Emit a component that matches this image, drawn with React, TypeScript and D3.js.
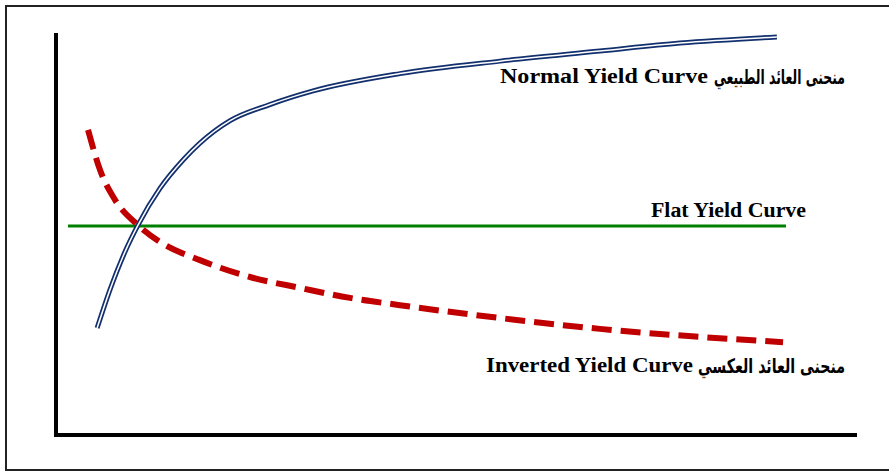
import React, { useEffect, useRef } from 'react';
import * as d3 from 'd3';

// maturity (years) and yield (%)
const normalYears = [1.54, 2.02, 2.58, 3.07, 3.9, 4.76, 5.39, 6.52, 8.01, 9.63, 12.88, 16.63, 20.37, 23.37, 27.0];
const normalYields = [2.66, 3.61, 4.55, 5.22, 6.14, 6.84, 7.26, 7.82, 8.22, 8.56, 8.99, 9.3, 9.55, 9.75, 9.9];

const invertedYears = [1.2, 1.65, 2.21, 3.07, 3.9, 5.39, 7.27, 9.14, 11.01, 12.88, 16.63, 20.37, 24.12, 27.23];
const invertedYields = [7.59, 6.59, 5.85, 5.22, 4.8, 4.35, 3.93, 3.66, 3.41, 3.23, 2.91, 2.64, 2.44, 2.31];

const flatYears = [0.45, 27.34];
const flatYields = [5.2, 5.2];

const labelsEn = ['Normal Yield Curve', 'Flat Yield Curve', 'Inverted Yield Curve'];
const labelsAr = ['منحنى العائد الطبيعي', '', 'منحنى العائد العكسي'];

const W = 889;
const H = 471;

const App: React.FC = () => {
  const svgRef = useRef<SVGSVGElement>(null);

  useEffect(() => {
    if (!svgRef.current) return;
    const svg = d3.select(svgRef.current);
    svg.selectAll('*').remove();

    const x = d3.scaleLinear().domain([0, 30]).range([56, 857]);
    const y = d3.scaleLinear().domain([0, 10]).range([435, 33]);

    // outer frame
    svg
      .append('rect')
      .attr('x', 6)
      .attr('y', 6)
      .attr('width', W + 10)
      .attr('height', 464)
      .attr('fill', 'white')
      .attr('stroke', '#222')
      .attr('stroke-width', 2);

    // axes
    svg
      .append('line')
      .attr('x1', x(0))
      .attr('x2', x(0))
      .attr('y1', y(10))
      .attr('y2', y(0) + 2)
      .attr('stroke', '#000')
      .attr('stroke-width', 4);
    svg
      .append('line')
      .attr('x1', x(0) - 2)
      .attr('x2', x(30))
      .attr('y1', y(0))
      .attr('y2', y(0))
      .attr('stroke', '#000')
      .attr('stroke-width', 4);

    const zip = (xs: number[], ys: number[]) => xs.map((v, i) => [v, ys[i]] as [number, number]);
    const line = d3
      .line<[number, number]>()
      .x(d => x(d[0]))
      .y(d => y(d[1]))
      .curve(d3.curveMonotoneX);

    // flat
    svg
      .append('path')
      .datum(zip(flatYears, flatYields))
      .attr('fill', 'none')
      .attr('stroke', '#008000')
      .attr('stroke-width', 3)
      .attr('d', line);

    // normal: double line
    const normal = zip(normalYears, normalYields);
    svg
      .append('path')
      .datum(normal)
      .attr('fill', 'none')
      .attr('stroke', '#13306e')
      .attr('stroke-width', 5)
      .attr('d', line);
    svg
      .append('path')
      .datum(normal)
      .attr('fill', 'none')
      .attr('stroke', '#fff')
      .attr('stroke-width', 1.5)
      .attr('d', line);

    // inverted: dashed
    svg
      .append('path')
      .datum(zip(invertedYears, invertedYields))
      .attr('fill', 'none')
      .attr('stroke', '#c00000')
      .attr('stroke-width', 6)
      .attr('stroke-dasharray', '20 9')
      .attr('d', line);

    const serif = '"Liberation Serif", "Times New Roman", serif';
    const arabic = '"DejaVu Sans", sans-serif';

    // labels are stretched to the widths seen in the picture
    const addText = (txt: string, left: number, right: number, py: number, size: number, family: string) =>
      svg
        .append('text')
        .attr('x', left)
        .attr('y', py)
        .attr('font-family', family)
        .attr('font-weight', 'bold')
        .attr('font-size', size)
        .attr('textLength', right - left)
        .attr('lengthAdjust', 'spacingAndGlyphs')
        .attr('fill', '#000')
        .text(txt);

    addText(labelsEn[0], 500, 708, 83, 20, serif);
    addText(labelsAr[0], 714, 845, 84, 20, arabic);
    addText(labelsEn[1], 651, 806, 217, 20, serif);
    addText(labelsEn[2], 486, 693, 372, 20, serif);
    addText(labelsAr[2], 698, 845, 373, 20, arabic);
  }, []);

  return (
    <svg
      ref={svgRef}
      width={W}
      height={H}
      style={{ position: 'absolute', left: 0, top: 0, background: '#fff' }}
    />
  );
};

export default App;
